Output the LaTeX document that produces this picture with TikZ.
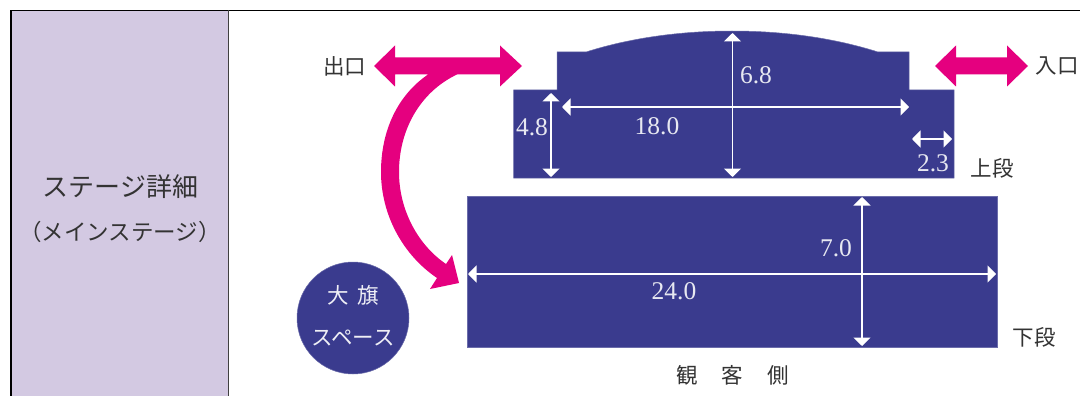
\documentclass[tikz,border=0pt]{standalone}
\usepackage{fontspec}
\setmainfont{Liberation Serif}
\newfontfamily\jpfont{Noto Sans CJK JP}
\usetikzlibrary{arrows.meta}
\definecolor{navy}{HTML}{3A3B8E}
\definecolor{pinkish}{HTML}{E5007F}
\definecolor{lilac}{HTML}{D3C9E2}
\definecolor{jptext}{HTML}{333333}
\newcommand{\fs}[1]{\fontsize{#1}{#1}\selectfont}
\tikzset{
  x=1pt,y=-1pt,
  stagefill/.style={fill=navy,draw=navy!75!white,line width=0.5pt},
  dimline/.style={draw=white,line width=1.6pt,{Triangle[length=8.5pt,width=17pt]}-{Triangle[length=8.5pt,width=17pt]}},
  dimtext/.style={text=white!88!navy,inner sep=0pt,font=\fs{25.5}},
  jplabel/.style={text=jptext,inner sep=0pt,font=\jpfont\fs{21.5}},
  jpwhite/.style={text=white!92!navy,inner sep=0pt,font=\jpfont\fs{21.5}},
  pinkshape/.style={fill=pinkish,draw=none},
}
\begin{document}
\begin{tikzpicture}
\useasboundingbox (0,0) rectangle (1080,396);
% left panel and frame
\fill[lilac] (11,10.5) rectangle (228.5,396);
\draw[black,line width=1.3pt] (11,396) -- (11,10.5) -- (1080,10.5);
\draw[black!75,line width=1pt] (228.5,10.5) -- (228.5,396);
\node[jplabel,font=\jpfont\fs{26}] (title) at (120.5,187) {ステージ詳細};
\node[jplabel,font=\jpfont\fs{22.5}] (subtitle) at (120,232) {（メインステージ）};
% stage shapes
\draw[stagefill] (513.5,90) -- (557,90) -- (557,52) -- (586,52)
  .. controls (630,38) and (680,31) .. (732,31)
  .. controls (784,31) and (834,38) .. (878,52)
  -- (909,52) -- (909,90) -- (954,90) -- (954,178) -- (513.5,178) -- cycle;
\node[stagefill,minimum width=530pt,minimum height=151pt,inner sep=0pt] (lower) at (732,271.5) {};
\node[stagefill,circle,minimum size=112pt,inner sep=0pt] (flag) at (353,318) {};
\node[jpwhite] (flag1) at (353,295) {大\hspace{9pt}旗};
\node[jpwhite] (flag2) at (353,338) {スペース};
% pink arrows
\fill[pinkshape] (374,66) -- (395,45.5) -- (395,57.5) -- (500,57.5) -- (500,45.5) -- (522,66)
  -- (500,86.5) -- (500,74.5) -- (457,74.5)
  .. controls (420,92) and (399,130) .. (399,172)
  .. controls (399,210) and (418,245) .. (446,264)
  -- (452,255) -- (459,283) -- (430,289) -- (437,278)
  .. controls (403,255) and (381,215) .. (381,172)
  .. controls (381,130) and (398,95) .. (428,74.5)
  -- (395,74.5) -- (395,86.5) -- cycle;
\fill[pinkshape] (935,66) -- (956,45.5) -- (956,57.5) -- (1007,57.5) -- (1007,45.5) -- (1028,66)
  -- (1007,86.5) -- (1007,74.5) -- (956,74.5) -- (956,86.5) -- cycle;
% dimension arrows
\coordinate (d48a) at (551,93);  \coordinate (d48b) at (551,177);
\coordinate (d18a) at (562,107); \coordinate (d18b) at (909,107);
\coordinate (d68a) at (732.5,33); \coordinate (d68b) at (732.5,177);
\coordinate (d23a) at (912,139); \coordinate (d23b) at (952,139);
\coordinate (d70a) at (862,197); \coordinate (d70b) at (862,346);
\coordinate (d24a) at (468,274); \coordinate (d24b) at (996,274);
\draw[dimline] (d48a) -- (d48b);
\draw[dimline] (d18a) -- (d18b);
\draw[dimline] (d68a) -- (d68b);
\draw[dimline] (d23a) -- (d23b);
\draw[dimline] (d70a) -- (d70b);
\draw[dimline] (d24a) -- (d24b);
\node[dimtext] (t48) at (532,127) {4.8};
\node[dimtext] (t18) at (657,126) {18.0};
\node[dimtext] (t68) at (756,75) {6.8};
\node[dimtext] (t23) at (933,163) {2.3};
\node[dimtext] (t70) at (836,248) {7.0};
\node[dimtext] (t24) at (674,291) {24.0};
% labels
\node[jplabel] (exit) at (344.5,66) {出口};
\node[jplabel] (entry) at (1057,66) {入口};
\node[jplabel] (upper) at (992,168) {上段};
\node[jplabel] (lowerlab) at (1034,337) {下段};
\node[jplabel] (aud) at (732.5,375) {観\hspace{24pt}客\hspace{24pt}側};
\end{tikzpicture}
\end{document}
